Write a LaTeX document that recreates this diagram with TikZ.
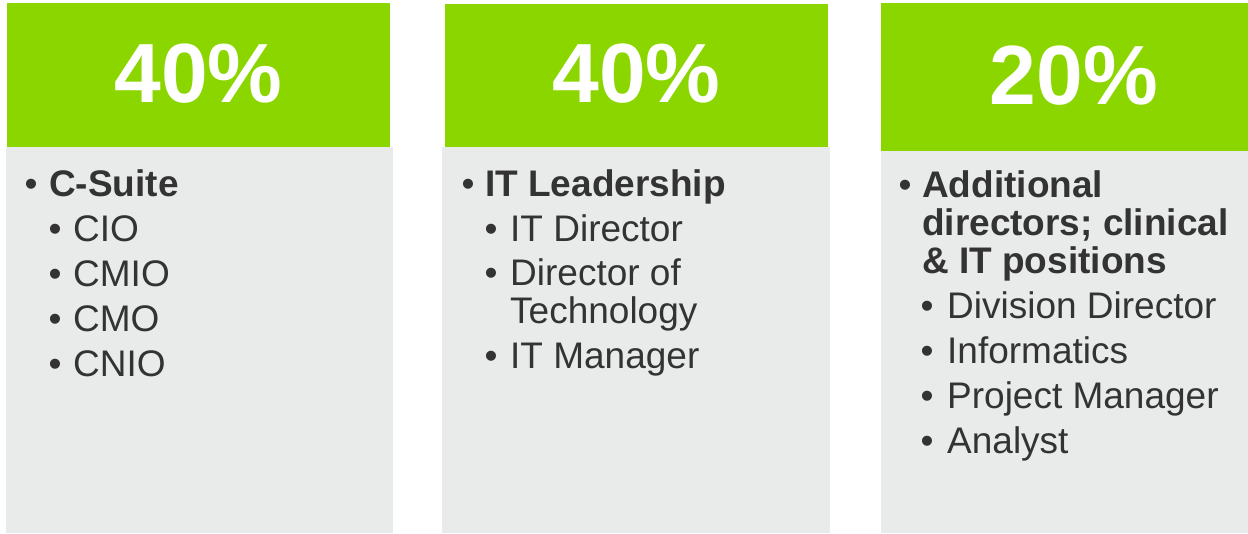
\documentclass[tikz,border=0pt]{standalone}
\usepackage{fontspec}
\setmainfont{Liberation Sans}
\definecolor{hdrgreen}{HTML}{8CD600}
\definecolor{bodygrey}{HTML}{E9EBEB}
\definecolor{txtgrey}{HTML}{333333}
\tikzset{
  hdrtext/.style={anchor=base, inner sep=0pt, text=white, font=\fontsize{84}{84}\selectfont\bfseries},
  itemtext/.style={anchor=base west, inner sep=0pt, text=txtgrey, font=\fontsize{37}{45}\selectfont},
  bultext/.style={anchor=base, inner sep=0pt, text=txtgrey, font=\fontsize{37}{45}\selectfont},
}
\begin{document}
\begin{tikzpicture}[x=1pt,y=-1pt]
\useasboundingbox (0,0) rectangle (1248,533);
% panels
\fill[bodygrey] (6,147) rectangle (393,533);
\fill[hdrgreen] (7,3) rectangle (390,147);
\fill[bodygrey] (442,147) rectangle (830,533);
\fill[hdrgreen] (445,4) rectangle (828,147);
\fill[bodygrey] (881,151) rectangle (1248,533);
\fill[hdrgreen] (881,3) rectangle (1248,151);
% headers
\node[hdrtext] (h1) at (198.5,102) {40\%};
\node[hdrtext] (h2) at (636.5,102) {40\%};
\node[hdrtext] (h3) at (1074,104) {20\%};
% column 1
\node[bultext] (b1) at (31,196) {•};
\node[itemtext] (t1) at (49,196) {\bfseries C-Suite};
\node[bultext] (b1a) at (55,241) {•};
\node[itemtext] (t1a) at (73,241) {CIO};
\node[bultext] (b1b) at (55,286) {•};
\node[itemtext] (t1b) at (73,286) {CMIO};
\node[bultext] (b1c) at (55,331) {•};
\node[itemtext] (t1c) at (73,331) {CMO};
\node[bultext] (b1d) at (55,376) {•};
\node[itemtext] (t1d) at (73,376) {CNIO};
% column 2
\node[bultext] (b2) at (468,196) {•};
\node[itemtext] (t2) at (485,196) {\bfseries IT Leadership};
\node[bultext] (b2a) at (491,241) {•};
\node[itemtext] (t2a) at (510,241) {IT Director};
\node[bultext] (b2b) at (491,285.5) {•};
\node[itemtext] (t2b) at (510,285.5) {Director of};
\node[itemtext] (t2b2) at (510,323.5) {Technology};
\node[bultext] (b2c) at (491,368.5) {•};
\node[itemtext] (t2c) at (510,368.5) {IT Manager};
% column 3
\node[bultext] (b3) at (905,197) {•};
\node[itemtext] (t3) at (922,197) {\bfseries Additional};
\node[itemtext] (t3l2) at (922,235) {\bfseries directors; clinical};
\node[itemtext] (t3l3) at (922,273) {\bfseries \& IT positions};
\node[bultext] (b3a) at (927,318) {•};
\node[itemtext] (t3a) at (947,318) {Division Director};
\node[bultext] (b3b) at (927,363) {•};
\node[itemtext] (t3b) at (947,363) {Informatics};
\node[bultext] (b3c) at (927,408) {•};
\node[itemtext] (t3c) at (947,408) {Project Manager};
\node[bultext] (b3d) at (927,453) {•};
\node[itemtext] (t3d) at (947,453) {Analyst};
\end{tikzpicture}
\end{document}
